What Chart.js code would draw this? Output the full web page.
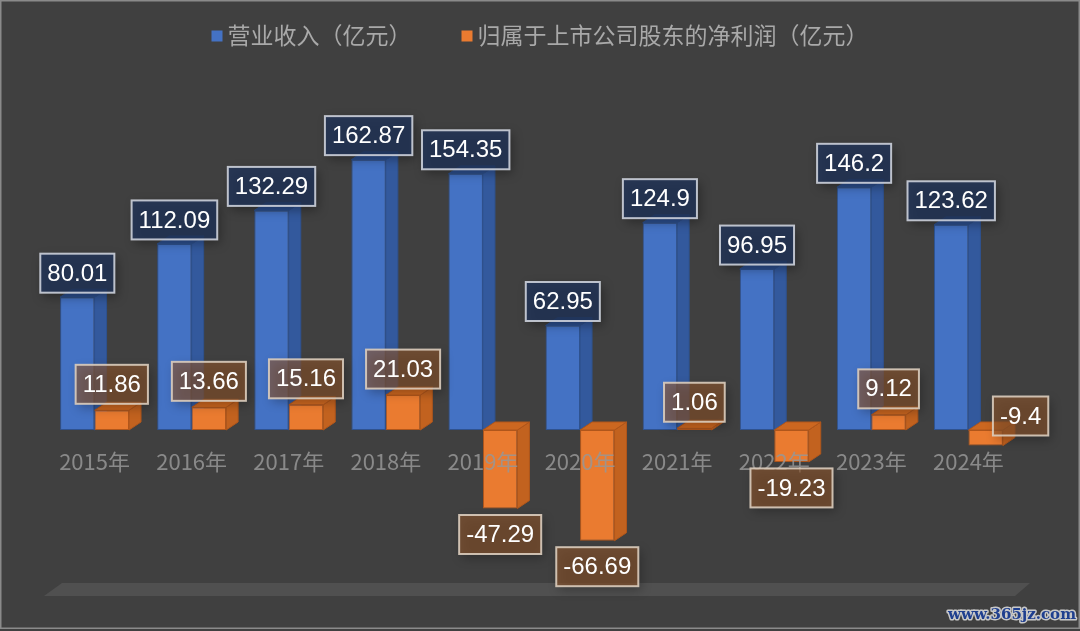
<!DOCTYPE html>
<html><head><meta charset="utf-8">
<script src="https://cdn.jsdelivr.net/npm/chart.js@4"></script>
<style>html,body{margin:0;padding:0;background:#404040;overflow:hidden}</style>
</head><body>
<canvas id="c" width="1080" height="631"></canvas>
<script>
const categories = ['2015年','2016年','2017年','2018年','2019年','2020年','2021年','2022年','2023年','2024年'];
const revenue = [80.01, 112.09, 132.29, 162.87, 154.35, 62.95, 124.9, 96.95, 146.2, 123.62];
const netProfit = [11.86, 13.66, 15.16, 21.03, -47.29, -66.69, 1.06, -19.23, 9.12, -9.4];
const seriesNames = ['营业收入（亿元）', '归属于上市公司股东的净利润（亿元）'];
const yMin = -100, yMax = 200;

const DX = 12, DY = -8;
const palette = [
  {front:'#4472c4', side:'#33599d', top:'#2d5192', border:'#2f528f', boxFill:'rgba(33,52,90,0.78)', boxStroke:'rgba(205,210,220,0.9)'},
  {front:'#ea7b30', side:'#c2621f', top:'#cc6720', border:'#b0561b', boxFill:'rgba(140,85,45,0.62)', boxStroke:'rgba(220,205,190,0.9)'}
];
const CJK = '"Noto Sans CJK SC", "Noto Sans", sans-serif';

const backdrop = {
  id: 'backdrop',
  beforeDraw(chart) {
    const ctx = chart.ctx, a = chart.chartArea;
    ctx.save();
    ctx.fillStyle = '#404040';
    ctx.fillRect(0, 0, chart.width, chart.height);
    ctx.strokeStyle = '#8a8a8a'; ctx.lineWidth = 1.5;
    ctx.strokeRect(0.75, 0.75, chart.width - 1.5, chart.height - 3.5);
    // 3D floor at the bottom of the value axis
    const fb = chart.scales.y.getPixelForValue(yMin);
    ctx.fillStyle = '#505050';
    ctx.beginPath();
    ctx.moveTo(a.left - 2, fb);
    ctx.lineTo(a.left + 16, fb - 13);
    ctx.lineTo(a.right + 13, fb - 13);
    ctx.lineTo(a.right - 2, fb);
    ctx.closePath(); ctx.fill();
    ctx.restore();
  }
};

const bar3d = {
  id: 'bar3d',
  beforeDatasetsDraw(chart) {
    const ctx = chart.ctx;
    chart.data.datasets.forEach((ds, di) => {
      const meta = chart.getDatasetMeta(di);
      const pal = palette[di];
      meta.data.forEach(el => {
        const {x, y, base, width} = el.getProps(['x','y','base','width'], true);
        const l = x - width / 2, r = x + width / 2;
        const t = Math.min(y, base), b = Math.max(y, base);
        ctx.save();
        ctx.lineWidth = 1; ctx.strokeStyle = pal.border; ctx.lineJoin = 'round';
        ctx.beginPath();
        ctx.moveTo(r, t); ctx.lineTo(r + DX, t + DY); ctx.lineTo(r + DX, b + DY); ctx.lineTo(r, b);
        ctx.closePath(); ctx.fillStyle = pal.side; ctx.fill(); ctx.stroke();
        ctx.beginPath();
        ctx.moveTo(l, t); ctx.lineTo(l + DX, t + DY); ctx.lineTo(r + DX, t + DY); ctx.lineTo(r, t);
        ctx.closePath(); ctx.fillStyle = pal.top; ctx.fill(); ctx.stroke();
        ctx.restore();
      });
    });
  }
};

const boxLabels = {
  id: 'boxLabels',
  afterDraw(chart, args, opts) {
    const ctx = chart.ctx;
    ctx.save();
    ctx.font = '24px "Liberation Sans", Arial, sans-serif';
    chart.data.datasets.forEach((ds, di) => {
      const meta = chart.getDatasetMeta(di);
      const pal = palette[di];
      meta.data.forEach((el, i) => {
        const v = ds.data[i];
        const {x, y, base, width} = el.getProps(['x','y','base','width'], true);
        const text = String(v);
        const tw = ctx.measureText(text).width;
        const bw = tw + 14, bh = 39;
        let cx = x, cy;
        const side = (opts.sideLabels || []).some(s => s[0] === di && s[1] === i);
        if (side) {
          cx = x + width / 2 + bw / 2 - 10;
          cy = Math.min(y, base) - 14;
        } else if (v >= 0) {
          cy = Math.min(y, base) - (di === 0 ? 24 : 26);
        } else {
          cy = Math.max(y, base) + 26;
        }
        const bx = cx - bw / 2, by = cy - bh / 2;
        ctx.save();
        ctx.shadowColor = 'rgba(0,0,0,0.45)'; ctx.shadowBlur = 10;
        ctx.shadowOffsetX = 3; ctx.shadowOffsetY = 4;
        ctx.fillStyle = pal.boxFill;
        ctx.fillRect(bx, by, bw, bh);
        ctx.restore();
        ctx.strokeStyle = pal.boxStroke; ctx.lineWidth = 2;
        ctx.strokeRect(bx, by, bw, bh);
        ctx.fillStyle = '#ffffff';
        ctx.textAlign = 'center'; ctx.textBaseline = 'middle';
        ctx.fillText(text, cx, cy + 1);
      });
    });
    ctx.restore();
  }
};

const topLegend = {
  id: 'topLegend',
  afterDraw(chart) {
    const ctx = chart.ctx;
    ctx.save();
    ctx.font = '23px ' + CJK;
    const box = 11, gapText = 5, gapItem = 50;
    const items = chart.data.datasets.map((d, i) => ({text: d.label, color: palette[i].front, w: ctx.measureText(d.label).width}));
    let total = items.reduce((s, it) => s + box + gapText + it.w, 0) + gapItem * (items.length - 1);
    let x = (chart.width - total) / 2;
    const cy = 36;
    items.forEach(it => {
      ctx.fillStyle = it.color;
      ctx.fillRect(x, cy - box / 2, box, box);
      ctx.fillStyle = '#a9a9a9';
      ctx.textAlign = 'left'; ctx.textBaseline = 'middle';
      ctx.fillText(it.text, x + box + gapText, cy - 1);
      x += box + gapText + it.w + gapItem;
    });
    // watermark
    ctx.font = 'bold 15px "DejaVu Serif", serif';
    ctx.textAlign = 'right'; ctx.textBaseline = 'middle';
    ctx.lineWidth = 3; ctx.strokeStyle = '#c8c8c8'; ctx.lineJoin = 'round';
    ctx.strokeText('www.365jz.com', 1076, 615);
    ctx.fillStyle = '#1f3f8f';
    ctx.fillText('www.365jz.com', 1076, 615);
    ctx.restore();
  }
};

new Chart(document.getElementById('c'), {
  type: 'bar',
  data: {
    labels: categories,
    datasets: [
      {label: seriesNames[0], data: revenue, backgroundColor: palette[0].front, borderColor: palette[0].border, borderWidth: 1, borderSkipped: false},
      {label: seriesNames[1], data: netProfit, backgroundColor: palette[1].front, borderColor: palette[1].border, borderWidth: 1, borderSkipped: false}
    ]
  },
  options: {
    responsive: false, animation: false, devicePixelRatio: 1,
    layout: {padding: {left: 46, right: 63, top: 98, bottom: 35}},
    datasets: {bar: {categoryPercentage: 0.71, barPercentage: 1}},
    plugins: {
      legend: {display: false},
      tooltip: {enabled: false},
      boxLabels: {sideLabels: [[1, 9]]}
    },
    scales: {
      x: {
        position: {y: 0}, z: 1,
        grid: {display: false, drawTicks: false},
        border: {display: false},
        ticks: {z: 1, color: 'rgba(150,150,150,0.85)', font: {family: CJK, size: 22}, padding: 18, maxRotation: 0, autoSkip: false}
      },
      y: {display: false, min: yMin, max: yMax}
    }
  },
  plugins: [backdrop, bar3d, boxLabels, topLegend]
});
</script>
</body></html>
